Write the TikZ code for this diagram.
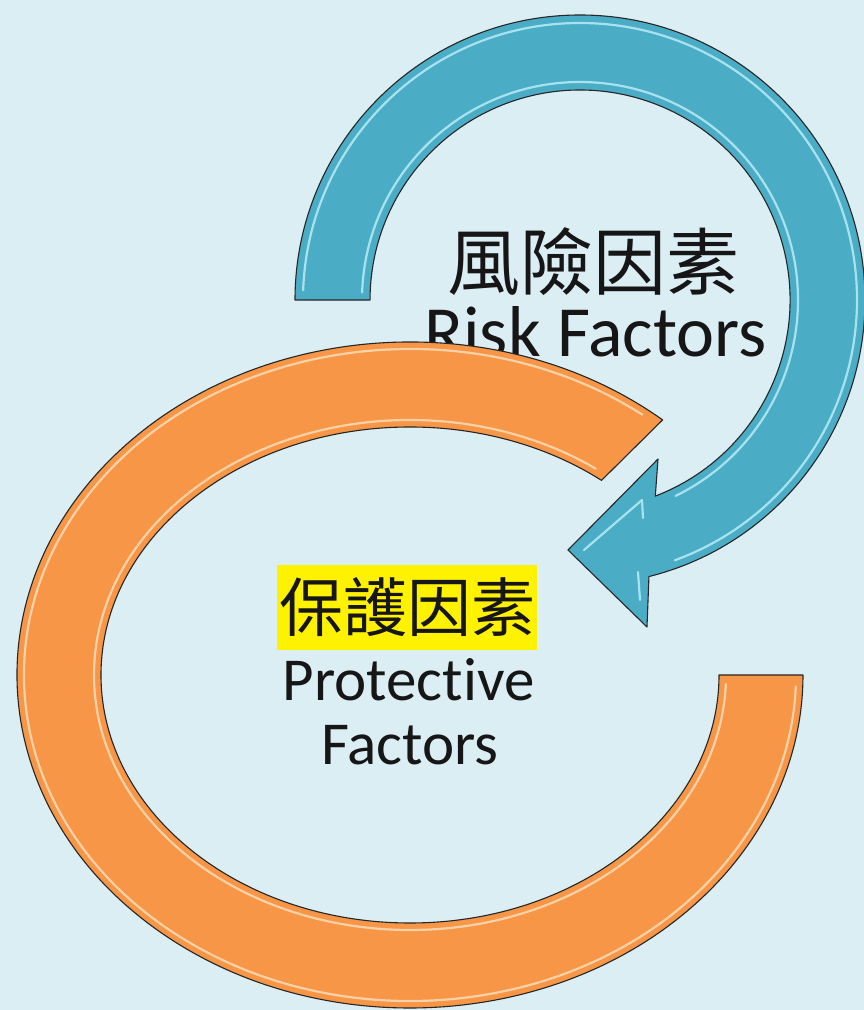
\documentclass[tikz,border=0pt]{standalone}
\usepackage{fontspec}
\setmainfont{Carlito}[Ligatures=NoCommon]
\newfontfamily\cjk{Noto Sans CJK TC}
\definecolor{bg}{HTML}{DBEEF4}
\definecolor{bluefill}{HTML}{4BACC6}
\definecolor{orangefill}{HTML}{F79646}
\definecolor{bluehl}{HTML}{B8ECF7}
\definecolor{orangehl}{HTML}{FDDCB8}
\definecolor{txt}{HTML}{161616}
\begin{document}
\begin{tikzpicture}[x=1pt,y=1pt,
  ribbon/.style={draw=black!85,line width=1.1pt,line join=round},
  bluehlline/.style={draw=bluehl,line width=2.2pt,line cap=round,line join=round,opacity=0.85},
  orangehlline/.style={draw=orangehl,line width=2.2pt,line cap=round,opacity=0.85},
  label/.style={text=txt,inner sep=0pt}]
\fill[bg] (0,0) rectangle (864,1010);
\useasboundingbox (0,0) rectangle (864,1010);

% blue curved arrow
\path[ribbon,fill=bluefill] (295,710) arc[start angle=180,end angle=-76,radius=285pt]
  -- (647,383) -- (568,460) -- (658,551) -- (655.3,513.9)
  arc[start angle=-69,end angle=180,radius=210pt] -- cycle;
\draw[bluehlline] ([shift={(178:277pt)}]580,710) arc[start angle=178,end angle=-70,radius=277pt];
\draw[bluehlline] ([shift={(178:218pt)}]580,710) arc[start angle=178,end angle=-64,radius=218pt];
\draw[bluehlline] (584,460) -- (642,510) -- (643,492);
\draw[bluehlline] (638,438) -- (640,410);

\node[label,font=\cjk\fontsize{73}{80}\selectfont,anchor=base] (riskzh) at (593,720) {風險因素};
\node[label,font=\fontsize{72}{80}\selectfont,anchor=base] (risken) at (595.5,653) {Risk Factors};

% orange ring
\path[ribbon,fill=orangefill] (662.6,590.1) arc[start angle=50,end angle=360,x radius=393pt,y radius=333pt]
  -- (719,335) arc[start angle=360,end angle=51.7,x radius=309pt,y radius=248pt] -- cycle;
\draw[orangehlline] ([shift={(53:386pt and 326pt)}]410,335) arc[start angle=53,end angle=358,x radius=386pt,y radius=326pt];
\draw[orangehlline] ([shift={(358:316pt and 255pt)}]410,335) arc[start angle=358,end angle=54,x radius=316pt,y radius=255pt];

\node[label,fill=yellow,minimum width=260pt,minimum height=85pt,font=\cjk\fontsize{64}{70}\selectfont] (protzh) at (407,402.5) {保護因素};
\node[label,font=\fontsize{61}{70}\selectfont,anchor=base] (proten) at (408.5,309) {Protective};
\node[label,font=\fontsize{61}{70}\selectfont,anchor=base] (protfac) at (410,245) {Factors};
\end{tikzpicture}
\end{document}
